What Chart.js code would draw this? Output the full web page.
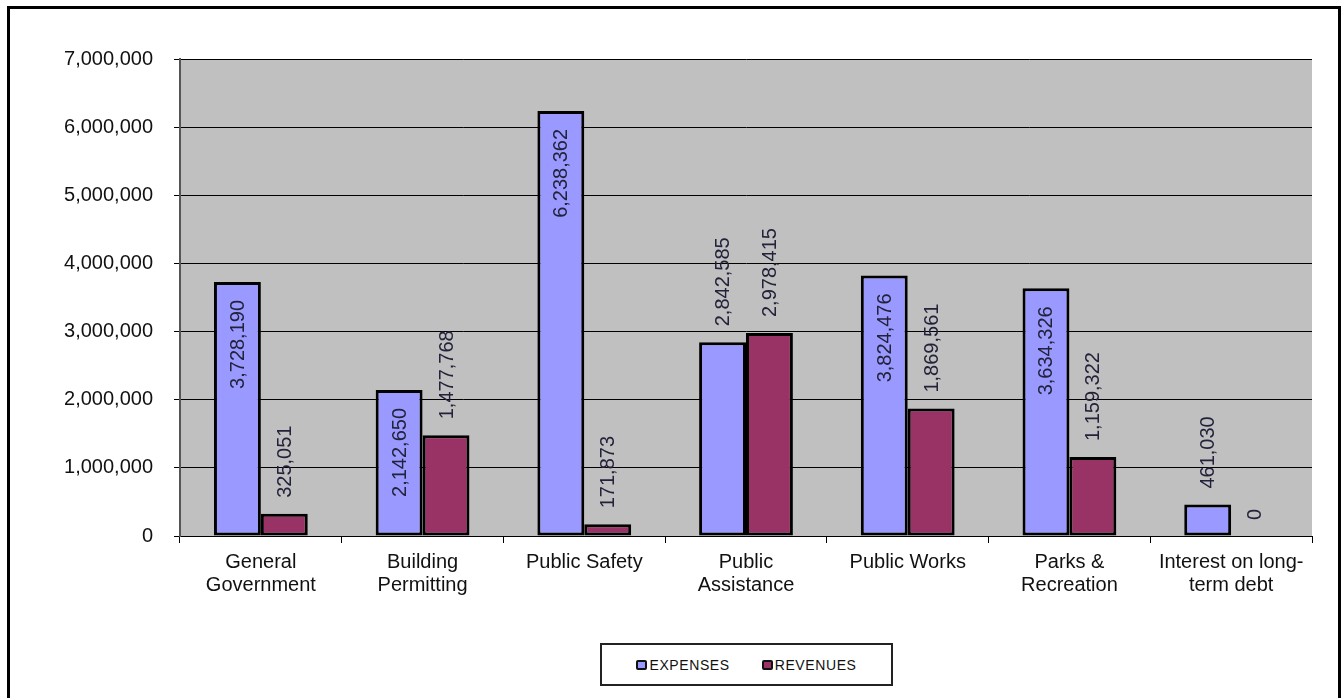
<!DOCTYPE html>
<html>
<head>
<meta charset="utf-8">
<script src="https://cdn.jsdelivr.net/npm/chart.js@4/dist/chart.umd.min.js"></script>
<style>
    body { margin: 0; background: #fff; font-family: "Liberation Sans", Arial, sans-serif; }
    #frame { position: absolute; left: 7px; top: 6px; width: 1334px; height: 720px; box-sizing: border-box; border: 3px solid #000; }
    #chart { position: absolute; left: 0; top: 0; }
    #legend {
        position: absolute; left: 600px; top: 643px; width: 293px; height: 43px;
        box-sizing: border-box; border: 2px solid #222; background: #fff;
        display: flex; align-items: center; justify-content: center; gap: 32px;
        font-size: 14px; letter-spacing: 0.6px; color: #111;
    }
    #legend span.item { display: flex; align-items: center; }
    #legend span.box { display: inline-block; width: 7px; height: 6px; border: 2px solid #111; border-radius: 2px; margin-right: 2px; }
</style>
</head>
<body>
<div id="frame"></div>
<canvas id="chart" width="1344" height="698"></canvas>
<div id="legend"></div>
<script>
const categories = [
    ['General', 'Government'],
    ['Building', 'Permitting'],
    ['Public Safety'],
    ['Public', 'Assistance'],
    ['Public Works'],
    ['Parks &', 'Recreation'],
    ['Interest on long-', 'term debt']
];
const expenses = [3728190, 2142650, 6238362, 2842585, 3824476, 3634326, 461030];
const revenues = [325051, 1477768, 171873, 2978415, 1869561, 1159322, 0];
// which expense labels sit inside the bar top
const expenseLabelInside = [true, true, true, false, true, true, false];
const yTicks = [0, 1000000, 2000000, 3000000, 4000000, 5000000, 6000000, 7000000];

const fmt = v => v.toLocaleString('en-US');

const plotBackground = {
    id: 'plotBackground',
    beforeDraw(chart) {
        const { ctx, chartArea: a } = chart;
        ctx.save();
        ctx.fillStyle = '#c0c0c0';
        ctx.fillRect(a.left, a.top, a.right - a.left, a.bottom - a.top);
        ctx.restore();
    }
};

const barLabels = {
    id: 'barLabels',
    afterDatasetsDraw(chart) {
        const ctx = chart.ctx;
        ctx.save();
        ctx.font = '20px "Liberation Sans", Arial, sans-serif';
        ctx.fillStyle = '#22223a';
        ctx.textBaseline = 'middle';
        chart.data.datasets.forEach((ds, i) => {
            chart.getDatasetMeta(i).data.forEach((bar, j) => {
                const inside = i === 0 && expenseLabelInside[j];
                ctx.save();
                if (inside) {
                    ctx.translate(bar.x, bar.y + 18);
                    ctx.rotate(-Math.PI / 2);
                    ctx.textAlign = 'right';
                } else {
                    ctx.translate(bar.x, bar.y - 16);
                    ctx.rotate(-Math.PI / 2);
                    ctx.textAlign = 'left';
                }
                ctx.fillText(fmt(ds.data[j]), 0, 1);
                ctx.restore();
            });
        });
        ctx.restore();
    }
};

const chart = new Chart(document.getElementById('chart'), {
    type: 'bar',
    data: {
        labels: categories,
        datasets: [
            { label: 'EXPENSES', data: expenses, backgroundColor: '#9999ff', borderColor: '#000', borderWidth: 3, borderSkipped: false },
            { label: 'REVENUES', data: revenues, backgroundColor: '#993366', borderColor: '#000', borderWidth: 3, borderSkipped: false }
        ]
    },
    options: {
        responsive: false,
        animation: false,
        layout: { padding: { left: 0, top: 59, right: 32, bottom: 0 } },
        categoryPercentage: 0.58,
        barPercentage: 1,
        plugins: { legend: { display: false }, tooltip: { enabled: false } },
        scales: {
            x: {
                afterFit(scale) { scale.height = 162; },
                grid: { offset: true, drawOnChartArea: false, drawTicks: true, tickLength: 7, color: '#000' },
                border: { color: '#000', width: 1 },
                ticks: {
                    color: '#111',
                    padding: 8,
                    maxRotation: 0,
                    autoSkip: false,
                    font: { family: '"Liberation Sans", Arial, sans-serif', size: 20, lineHeight: 1.15 }
                }
            },
            y: {
                min: 0,
                max: 7000000,
                afterFit(scale) { scale.width = 180; },
                afterBuildTicks(scale) { scale.ticks = yTicks.map(v => ({ value: v })); },
                grid: { color: '#000', lineWidth: 1, tickLength: 6 },
                border: { color: '#555', width: 2 },
                ticks: {
                    color: '#111',
                    padding: 21,
                    callback: v => fmt(v),
                    font: { family: '"Liberation Sans", Arial, sans-serif', size: 20 }
                }
            }
        }
    },
    plugins: [plotBackground, barLabels]
});

const legend = document.getElementById('legend');
chart.data.datasets.forEach(ds => {
    const item = document.createElement('span');
    item.className = 'item';
    const box = document.createElement('span');
    box.className = 'box';
    box.style.background = ds.backgroundColor;
    item.appendChild(box);
    item.appendChild(document.createTextNode(ds.label));
    legend.appendChild(item);
});
</script>
</body>
</html>
